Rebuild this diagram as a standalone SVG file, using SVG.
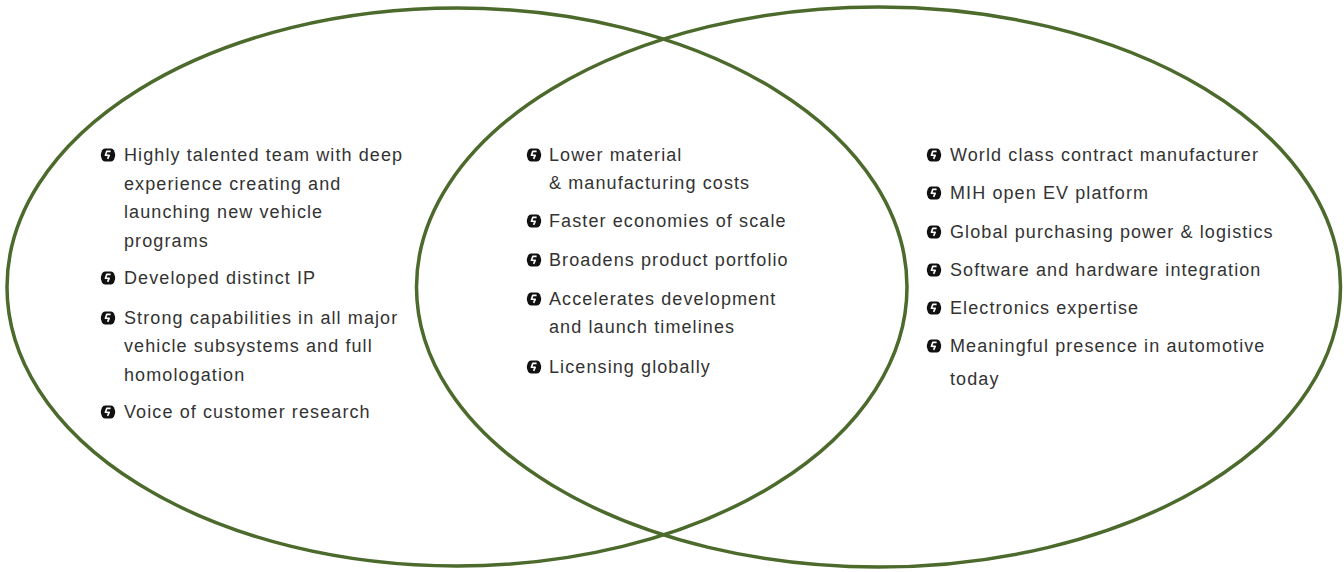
<svg xmlns="http://www.w3.org/2000/svg" xmlns:xlink="http://www.w3.org/1999/xlink" width="1344" height="572" viewBox="0 0 1344 572">
<style>
.ring{fill:none;stroke:#4b6a2c;stroke-width:3.5}
.t{font-family:"Liberation Sans",Arial,sans-serif;font-size:18px;letter-spacing:1.1px;fill:#333333}
</style>
<defs>
<symbol id="bul" viewBox="-7 -7 14 14" overflow="visible">
<path d="M-3,-6.4 L3,-6.4 Q5,-6.4 6,-4.5 L7,-1.5 Q7.4,0 7,1.5 L6,4.5 Q5,6.4 3,6.4 L-3,6.4 Q-5,6.4 -6,4.5 L-7,1.5 Q-7.4,0 -7,-1.5 L-6,-4.5 Q-5,-6.4 -3,-6.4 Z" fill="#111"/>
<path d="M2.6,-3.6 L-1.2,-3.6 L-2.6,0.2 L1.2,0.4 L-0.4,3.9" fill="none" stroke="#fff" stroke-width="1.6" stroke-linejoin="round"/>
</symbol>
</defs>
<rect width="1344" height="572" fill="#ffffff"/>
<g id="connectors"></g>
<g id="left-circle">
<ellipse class="ring" cx="457" cy="287" rx="450" ry="279"/>
<use xlink:href="#bul" x="101" y="148" width="14" height="14"/>
<text class="t" x="124" y="161">Highly talented team with deep</text>
<text class="t" x="124" y="190">experience creating and</text>
<text class="t" x="124" y="218">launching new vehicle</text>
<text class="t" x="124" y="247">programs</text>
<use xlink:href="#bul" x="101" y="271" width="14" height="14"/>
<text class="t" x="124" y="284">Developed distinct IP</text>
<use xlink:href="#bul" x="101" y="311" width="14" height="14"/>
<text class="t" x="124" y="324">Strong capabilities in all major</text>
<text class="t" x="124" y="352">vehicle subsystems and full</text>
<text class="t" x="124" y="381">homologation</text>
<use xlink:href="#bul" x="101" y="405" width="14" height="14"/>
<text class="t" x="124" y="418">Voice of customer research</text>
</g>
<g id="right-circle">
<ellipse class="ring" cx="878.5" cy="287" rx="462" ry="280"/>
<use xlink:href="#bul" x="927" y="148" width="14" height="14"/>
<text class="t" x="950" y="161">World class contract manufacturer</text>
<use xlink:href="#bul" x="927" y="186" width="14" height="14"/>
<text class="t" x="950" y="199">MIH open EV platform</text>
<use xlink:href="#bul" x="927" y="225" width="14" height="14"/>
<text class="t" x="950" y="238">Global purchasing power &amp; logistics</text>
<use xlink:href="#bul" x="927" y="263" width="14" height="14"/>
<text class="t" x="950" y="276">Software and hardware integration</text>
<use xlink:href="#bul" x="927" y="301" width="14" height="14"/>
<text class="t" x="950" y="314">Electronics expertise</text>
<use xlink:href="#bul" x="927" y="339" width="14" height="14"/>
<text class="t" x="950" y="352">Meaningful presence in automotive</text>
<text class="t" x="950" y="385">today</text>
</g>
<g id="overlap">
<use xlink:href="#bul" x="527" y="148" width="14" height="14"/>
<text class="t" x="549" y="161">Lower material</text>
<text class="t" x="549" y="189">&amp; manufacturing costs</text>
<use xlink:href="#bul" x="527" y="214" width="14" height="14"/>
<text class="t" x="549" y="227">Faster economies of scale</text>
<use xlink:href="#bul" x="527" y="253" width="14" height="14"/>
<text class="t" x="549" y="266">Broadens product portfolio</text>
<use xlink:href="#bul" x="527" y="292" width="14" height="14"/>
<text class="t" x="549" y="305">Accelerates development</text>
<text class="t" x="549" y="333">and launch timelines</text>
<use xlink:href="#bul" x="527" y="360" width="14" height="14"/>
<text class="t" x="549" y="373">Licensing globally</text>
</g>
</svg>
